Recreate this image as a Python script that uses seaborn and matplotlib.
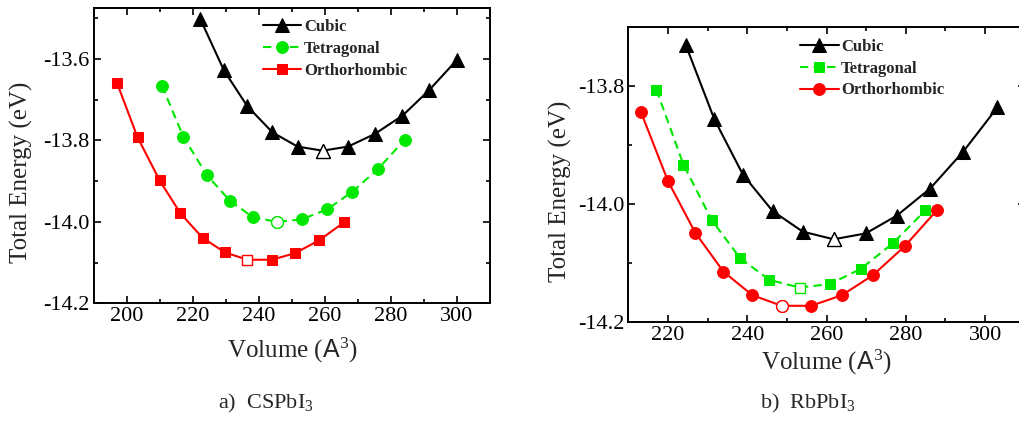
import numpy as np
import matplotlib
matplotlib.use('Agg')
import matplotlib.pyplot as plt
import seaborn as sns
from matplotlib.ticker import MultipleLocator

sns.set_theme(style='ticks')
plt.rcParams['font.family'] = ['Liberation Serif', 'DejaVu Serif']
plt.rcParams['mathtext.fontset'] = 'custom'
plt.rcParams['mathtext.rm'] = 'Liberation Serif'
plt.rcParams['mathtext.it'] = 'Liberation Serif'
plt.rcParams['mathtext.sf'] = 'Liberation Sans'

# (a) CsPbI3
cs_cub_v = [222.2, 229.4, 236.5, 244.1, 251.7, 259.3, 267.0, 275.1, 283.5, 291.5, 300.0]
cs_cub_e = [-13.501, -13.628, -13.716, -13.780, -13.815, -13.825, -13.815, -13.784, -13.739, -13.677, -13.602]
cs_tet_v = [210.6, 217.1, 224.2, 231.3, 238.3, 245.6, 252.9, 260.7, 268.3, 276.1, 284.2]
cs_tet_e = [-13.665, -13.791, -13.885, -13.949, -13.989, -14.000, -13.994, -13.969, -13.926, -13.870, -13.798]
cs_ort_v = [197.0, 203.2, 209.9, 216.2, 222.9, 229.7, 236.5, 243.9, 250.9, 258.3, 265.8]
cs_ort_e = [-13.659, -13.792, -13.898, -13.979, -14.039, -14.075, -14.093, -14.093, -14.077, -14.045, -14.001]

# (b) RbPbI3
rb_cub_v = [224.5, 231.7, 238.9, 246.4, 254.0, 261.8, 269.9, 277.7, 286.1, 294.5, 303.1]
rb_cub_e = [-13.730, -13.856, -13.950, -14.012, -14.047, -14.060, -14.050, -14.020, -13.974, -13.911, -13.836]
rb_tet_v = [217.1, 223.9, 231.1, 238.2, 245.6, 253.2, 260.9, 268.7, 276.7, 284.9]
rb_tet_e = [-13.806, -13.933, -14.028, -14.092, -14.129, -14.142, -14.136, -14.110, -14.067, -14.011]
rb_ort_v = [213.2, 220.0, 226.9, 234.0, 241.3, 248.7, 256.1, 263.9, 271.7, 279.7, 287.8]
rb_ort_e = [-13.844, -13.961, -14.049, -14.115, -14.155, -14.173, -14.173, -14.155, -14.121, -14.072, -14.011]

# index of the open (equilibrium) marker
cs_min = {'Cubic': 5, 'Tetragonal': 5, 'Orthorhombic': 6}
rb_min = {'Cubic': 5, 'Tetragonal': 5, 'Orthorhombic': 5}

BLACK, GREEN, RED = '#000000', '#00e800', '#ff0000'
DASH = (0, (4, 2.5))


def draw(ax, v, e, label, color, marker, ms, ls, imin):
    sns.lineplot(x=v, y=e, ax=ax, color=color, linestyle=ls, linewidth=1.5,
                 marker=marker, markersize=ms, markeredgecolor=color,
                 markerfacecolor=color, label=label, sort=False)
    ax.plot(v[imin], e[imin], linestyle='none', marker=marker, markersize=ms,
            markerfacecolor='white', markeredgecolor=color,
            markeredgewidth=1.0, zorder=5)


def style(ax, xlim, ylim, xpad, ylab_xy):
    ax.set_xlim(*xlim)
    ax.set_ylim(*ylim)
    ax.xaxis.set_major_locator(MultipleLocator(20))
    ax.xaxis.set_minor_locator(MultipleLocator(10))
    ax.yaxis.set_major_locator(MultipleLocator(0.2))
    ax.yaxis.set_minor_locator(MultipleLocator(0.1))
    ax.yaxis.set_major_formatter(plt.FuncFormatter(lambda y, p: f'{y:.1f}'))
    ax.tick_params(which='both', direction='in', top=True, right=True,
                   width=1.2, labelsize=16, colors='black', pad=3)
    ax.tick_params(which='major', length=5)
    ax.tick_params(which='minor', length=3)
    for s in ax.spines.values():
        s.set_linewidth(1.4)
        s.set_color('black')
    ax.set_xlabel(r'Volume ($\mathsf{A}^3$)', fontsize=18, labelpad=xpad)
    ax.set_ylabel('Total Energy (eV)', fontsize=18)
    ax.yaxis.set_label_coords(*ylab_xy)


fig = plt.figure(figsize=(10.19, 4.21), dpi=100)
ax1 = fig.add_axes([0.0922, 0.2796, 0.3886, 0.7014])
ax2 = fig.add_axes([0.6166, 0.2359, 0.389, 0.699])

draw(ax1, cs_cub_v, cs_cub_e, 'Cubic', BLACK, '^', 10, '-', cs_min['Cubic'])
draw(ax1, cs_tet_v, cs_tet_e, 'Tetragonal', GREEN, 'o', 8.5, DASH, cs_min['Tetragonal'])
draw(ax1, cs_ort_v, cs_ort_e, 'Orthorhombic', RED, 's', 7.5, '-', cs_min['Orthorhombic'])
style(ax1, (190, 310), (-14.2, -13.4745), 7, (-0.155, 0.445))

draw(ax2, rb_cub_v, rb_cub_e, 'Cubic', BLACK, '^', 10, '-', rb_min['Cubic'])
draw(ax2, rb_tet_v, rb_tet_e, 'Tetragonal', GREEN, 's', 7.5, DASH, rb_min['Tetragonal'])
draw(ax2, rb_ort_v, rb_ort_e, 'Orthorhombic', RED, 'o', 8.5, '-', rb_min['Orthorhombic'])
style(ax2, (210, 310), (-14.2, -13.7), 2, (-0.142, 0.444))

for ax, anchor in [(ax1, (0.41, 0.985)), (ax2, (0.417, 0.984))]:
    ax.legend(loc='upper left', bbox_to_anchor=anchor, frameon=False,
              borderaxespad=0, handlelength=2.3, handletextpad=0.15,
              labelspacing=0.35, prop={'weight': 'bold', 'size': 12})

fig.text(0.214, 0.03, r'a)  CSPbI$_3$', fontsize=16, ha='left')
fig.text(0.746, 0.03, r'b)  RbPbI$_3$', fontsize=16, ha='left')

plt.savefig('out.png', dpi=100)
